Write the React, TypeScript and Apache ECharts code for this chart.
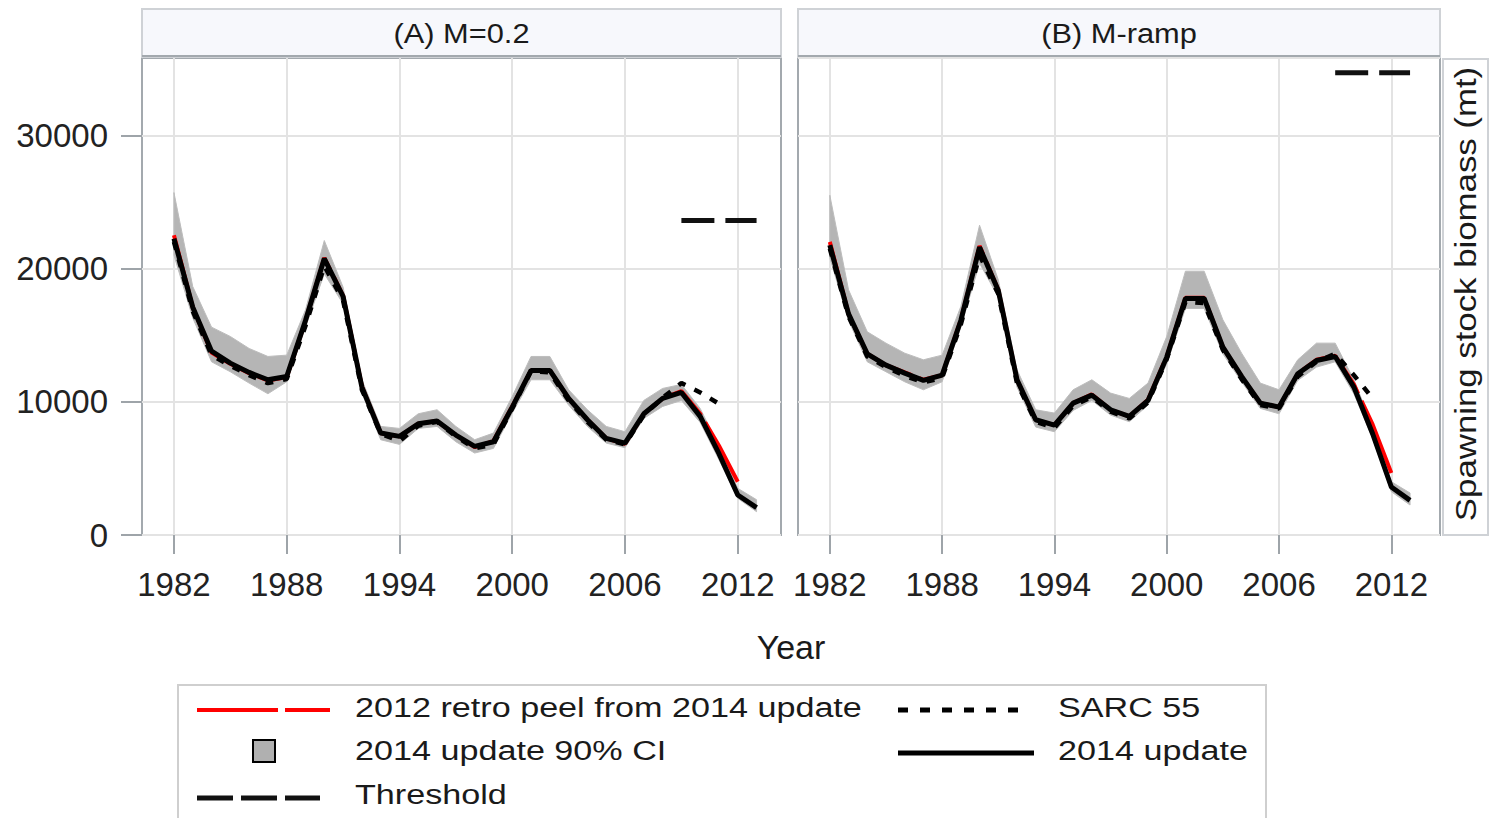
import React, { useEffect, useRef } from 'react';
import * as echarts from 'echarts';

const FONT = 'Liberation Sans, Arial, sans-serif';

const years = [1982, 1983, 1984, 1985, 1986, 1987, 1988, 1989, 1990, 1991, 1992, 1993, 1994, 1995, 1996, 1997,
  1998, 1999, 2000, 2001, 2002, 2003, 2004, 2005, 2006, 2007, 2008, 2009, 2010, 2011, 2012, 2013];
const tickYears = [1982, 1988, 1994, 2000, 2006, 2012];
const yTicks = [0, 10000, 20000, 30000];
const panelTitles = ['(A) M=0.2', '(B) M-ramp'];

// Panel A (M=0.2)
const updateA = [22250, 17100, 13800, 12900, 12200, 11650, 11900, 16100, 20750, 17900, 11100, 7650, 7400, 8350, 8550, 7500,
  6650, 7000, 9600, 12350, 12350, 10250, 8650, 7250, 6900, 9100, 10250, 10700, 8900, 6100, 3000, 2050];
const ciLoA = [21000, 16300, 13000, 12250, 11400, 10600, 11500, 15600, 19600, 17350, 10650, 7150, 6800, 8000, 8150, 7000,
  6150, 6500, 9150, 11650, 11650, 9750, 8150, 6900, 6550, 8750, 9650, 10100, 8450, 5650, 2750, 1750];
const ciHiA = [25700, 18650, 15600, 14900, 14000, 13400, 13500, 16900, 22100, 18600, 11650, 8150, 8000, 9100, 9400, 8150,
  7150, 7650, 10400, 13400, 13400, 10900, 9400, 8150, 7750, 10100, 11000, 11300, 9500, 6650, 3500, 2650];
const retroA = [22500, 17100, 13700, 12850, 12150, 11600, 11850, 16100, 20800, 17950, 11150, 7650, 7400, 8350, 8550, 7500,
  6600, 7050, 9650, 12350, 12350, 10250, 8650, 7250, 6850, 9100, 10250, 10800, 9100, 6700, 4000];
const sarcA = [22000, 16800, 13500, 12700, 12000, 11400, 11700, 15700, 20200, 17600, 10900, 7600, 7050, 8200, 8500, 7400,
  6500, 6800, 9500, 12300, 12200, 10100, 8500, 7150, 6800, 9000, 10300, 11400, 10700, 9850];
const thresholdA = [23600, 23600];

// Panel B (M-ramp)
const updateB = [21750, 16600, 13600, 12750, 12150, 11600, 12000, 16100, 21600, 18350, 11650, 8650, 8250, 9900, 10500, 9400,
  8900, 10100, 13350, 17750, 17750, 14100, 11900, 9900, 9600, 12100, 13100, 13400, 11100, 7600, 3600, 2600];
const ciLoB = [20800, 16100, 13000, 12250, 11500, 10900, 11500, 15600, 20400, 17850, 11100, 8100, 7750, 9350, 10100, 9000,
  8500, 9750, 12850, 17000, 17000, 13600, 11500, 9500, 9100, 11600, 12600, 13000, 10600, 7250, 3250, 2250];
const ciHiB = [25500, 18400, 15250, 14400, 13650, 13150, 13500, 17150, 23250, 19150, 12400, 9400, 9150, 10900, 11650, 10650,
  10250, 11400, 14900, 19800, 19800, 16150, 13650, 11400, 10900, 13150, 14400, 14400, 11650, 8150, 4000, 3150];
const retroB = [22000, 16600, 13600, 12750, 12200, 11650, 12000, 16150, 21700, 18400, 11650, 8650, 8250, 9900, 10550, 9400,
  8900, 10150, 13400, 17800, 17800, 14100, 11900, 9900, 9600, 12100, 13150, 13450, 11300, 8300, 4650];
const sarcB = [21500, 16400, 13400, 12600, 11950, 11450, 11800, 15800, 21000, 18100, 11400, 8500, 8050, 9700, 10350, 9250,
  8750, 9950, 13200, 17500, 17400, 13900, 11700, 9750, 9500, 11900, 13000, 13600, 12000, 10250];
const thresholdB = [34700, 34700];
const thresholdYears = [2009, 2013];

const legendLeft = ['2012 retro peel from 2014 update', '2014 update 90% CI', 'Threshold'];
const legendRight = ['SARC 55', '2014 update'];

const pair = (xs: number[], vs: number[]) => vs.map((v, i) => [xs[i], v]);

function bandSeries(idx: number, lo: number[], hi: number[]) {
  return {
    type: 'custom',
    xAxisIndex: idx,
    yAxisIndex: idx,
    z: 1,
    silent: true,
    clip: true,
    data: years.map((y, i) => [y, lo[i], hi[i]]),
    encode: { x: 0, y: [1, 2] },
    renderItem: (params: any, api: any) => {
      if (params.dataIndex !== 0) return null;
      const pts: number[][] = [];
      for (let i = 0; i < years.length; i++) pts.push(api.coord([years[i], hi[i]]));
      for (let i = years.length - 1; i >= 0; i--) pts.push(api.coord([years[i], lo[i]]));
      return { type: 'polygon', shape: { points: pts }, style: { fill: '#b5b5b5', stroke: '#bdbdbd', lineWidth: 1 } };
    },
  };
}

function lineSeries(idx: number, name: string, data: number[][], color: string, width: number, type: any, z: number) {
  return {
    type: 'line',
    name,
    xAxisIndex: idx,
    yAxisIndex: idx,
    data,
    symbol: 'none',
    z,
    lineStyle: { color, width, type },
    silent: true,
  };
}

export default function App() {
  const ref = useRef<HTMLDivElement>(null);
  useEffect(() => {
    document.body.style.margin = '0';
    const chart = echarts.init(ref.current!, null, { renderer: 'svg' });
    const gridLeft = [142, 798];
    const gridWidth = [639, 642];
    const xMax = [2014.3, 2014.6];
    const axisColor = '#9ea4a9';
    const gridColor = '#e3e3e3';
    const plain = (v: number) => String(Math.round(v));
    const xAxes = [0, 1].map((i) => ({
      gridIndex: i,
      type: 'value',
      min: 1980.3,
      max: xMax[i],
      axisLine: { show: false },
      axisTick: { show: true, length: 19, customValues: tickYears, lineStyle: { color: axisColor, width: 2 } },
      axisLabel: { customValues: tickYears, formatter: plain, margin: 33, fontSize: 33, color: '#222', fontFamily: FONT },
      splitLine: { show: true, lineStyle: { color: gridColor, width: 2 } },
    }));
    const yAxes = [0, 1].map((i) => ({
      gridIndex: i,
      type: 'value',
      min: 0,
      max: 35800,
      interval: 10000,
      axisLine: { show: false },
      axisTick: i === 0
        ? { show: true, length: 21, customValues: yTicks, lineStyle: { color: axisColor, width: 2 } }
        : { show: false },
      axisLabel: i === 0
        ? { show: true, customValues: yTicks, formatter: plain, margin: 34, fontSize: 33, color: '#222', fontFamily: FONT }
        : { show: false },
      splitLine: { show: true, lineStyle: { color: gridColor, width: 2 } },
    }));
    const grids = [0, 1].map((i) => ({
      left: gridLeft[i],
      top: 58,
      width: gridWidth[i],
      height: 477,
      show: true,
      borderColor: '#a3a9ae',
      borderWidth: 2,
      backgroundColor: '#fff',
    }));

    const panels = [
      { upd: updateA, lo: ciLoA, hi: ciHiA, retro: retroA, sarc: sarcA, thr: thresholdA },
      { upd: updateB, lo: ciLoB, hi: ciHiB, retro: retroB, sarc: sarcB, thr: thresholdB },
    ];
    const series: any[] = [];
    panels.forEach((p, i) => {
      series.push(bandSeries(i, p.lo, p.hi));
      series.push(lineSeries(i, legendLeft[0], pair(years, p.retro), '#ff0000', 4, [80, 8], 2));
      series.push(lineSeries(i, legendRight[0], pair(years, p.sarc), '#000', 4.5, [8, 10], 3));
      series.push(lineSeries(i, legendRight[1], pair(years, p.upd), '#000', 5, 'solid', 4));
      series.push(lineSeries(i, legendLeft[2], pair(thresholdYears, p.thr), '#111', 5, [33, 11], 5));
    });

    const txt = (text: string, x: number, y: number, size: number, extra: any = {}) => ({
      type: 'text',
      x,
      y,
      style: { text, fontSize: size, fontFamily: FONT, fill: '#1a1a1a', align: 'left', verticalAlign: 'middle', ...extra.style },
      ...extra.el,
    });
    const hline = (x1: number, x2: number, y: number, color: string, width: number, dash: any) => ({
      type: 'line',
      shape: { x1, y1: y, x2, y2: y },
      style: { stroke: color, lineWidth: width, lineDash: dash },
    });

    const graphic: any[] = [];
    // panel headers
    [0, 1].forEach((i) => {
      graphic.push({
        type: 'rect',
        shape: { x: gridLeft[i], y: 9, width: gridWidth[i], height: 48 },
        style: { fill: '#f7f8fc', stroke: '#cfd2d6', lineWidth: 2 },
      });
      graphic.push({
        type: 'line',
        shape: { x1: gridLeft[i], y1: 56, x2: gridLeft[i] + gridWidth[i], y2: 56 },
        style: { stroke: '#a3a9ae', lineWidth: 2 },
      });
      graphic.push(txt(panelTitles[i], gridLeft[i] + gridWidth[i] / 2, 33, 28, {
        style: { align: 'center' }, el: { scaleX: 1.1 },
      }));
    });
    // right axis label strip
    graphic.push({
      type: 'rect',
      shape: { x: 1443, y: 59, width: 45, height: 476 },
      style: { fill: '#fff', stroke: '#cfd2d6', lineWidth: 2 },
    });
    graphic.push(txt('Spawning stock biomass (mt)', 1466, 294, 29, {
      style: { align: 'center' }, el: { rotation: Math.PI / 2, scaleX: 1.2 },
    }));
    // x axis title
    graphic.push(txt('Year', 791, 647, 34, { style: { align: 'center' } }));

    // legend
    graphic.push({
      type: 'rect',
      shape: { x: 178, y: 685, width: 1088, height: 160 },
      style: { fill: 'none', stroke: '#cfcfcf', lineWidth: 2 },
    });
    graphic.push(hline(197, 330, 710, '#ff0000', 4, [81, 7]));
    graphic.push({
      type: 'rect',
      shape: { x: 253, y: 740, width: 22, height: 22 },
      style: { fill: '#b0b0b0', stroke: '#000', lineWidth: 2 },
    });
    graphic.push(hline(197, 320, 798, '#111', 5, [36, 8]));
    graphic.push(hline(898, 1024, 710, '#000', 5, [10, 12]));
    graphic.push(hline(898, 1034, 753, '#000', 5, null));
    const lsx = { el: { scaleX: 1.22 } };
    graphic.push(txt(legendLeft[0], 355, 708, 28, lsx));
    graphic.push(txt(legendLeft[1], 355, 751, 28, lsx));
    graphic.push(txt(legendLeft[2], 355, 795, 28, lsx));
    graphic.push(txt(legendRight[0], 1058, 708, 28, lsx));
    graphic.push(txt(legendRight[1], 1058, 751, 28, lsx));

    chart.setOption({
      animation: false,
      backgroundColor: '#fff',
      grid: grids,
      xAxis: xAxes,
      yAxis: yAxes,
      series,
      graphic,
    });
    return () => chart.dispose();
  }, []);
  return <div ref={ref} style={{ width: 1491, height: 818 }} />;
}
